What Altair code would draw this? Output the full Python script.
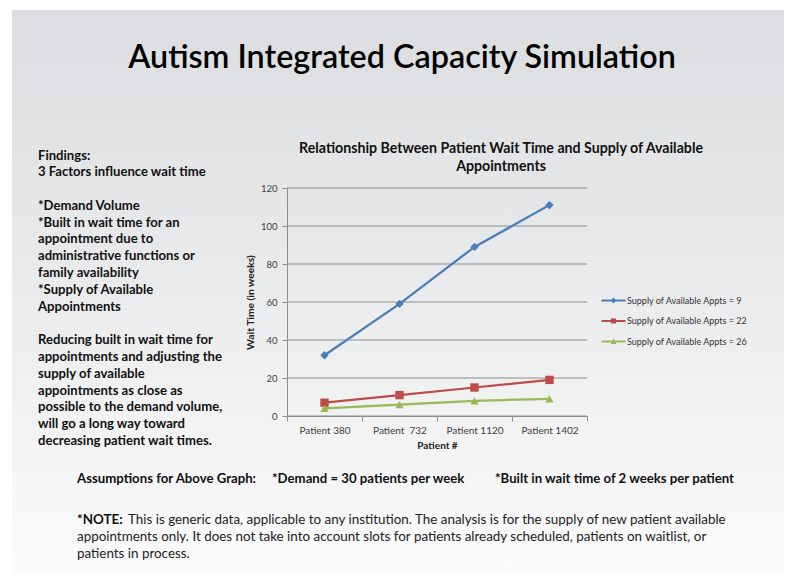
import altair as alt
import pandas as pd

# ---------------- data ----------------
patients = ["Patient 380", "Patient\u00a0 732", "Patient 1120", "Patient 1402"]
series = [
    "Supply of Available Appts = 9",
    "Supply of Available Appts = 22",
    "Supply of Available Appts = 26",
]
wait_supply_9 = [32, 59, 89, 111]
wait_supply_22 = [7, 11, 15, 19]
wait_supply_26 = [4, 6, 8, 9]
series_colors = ["#4A7EBB", "#BE4B48", "#98B954"]
y_ticks = [0, 20, 40, 60, 80, 100, 120]

slide_title = "Autism Integrated Capacity Simulation"
chart_title = [
    "Relationship Between Patient Wait Time and Supply of Available",
    "Appointments",
]
findings_intro = ["Findings:", "3 Factors influence wait time"]
findings_factors = [
    "*Demand Volume",
    "*Built in wait time for an",
    "appointment due to",
    "administrative functions or",
    "family availability",
    "*Supply of Available",
    "Appointments",
]
findings_advice = [
    "Reducing built in wait time for",
    "appointments and adjusting the",
    "supply of available",
    "appointments as close as",
    "possible to the demand volume,",
    "will go a long way toward",
    "decreasing patient wait times.",
]
assumptions = [
    "Assumptions for Above Graph:",
    "*Demand = 30 patients per week",
    "*Built in wait time of 2 weeks per patient",
]
note_head = "*NOTE:"
note_first = ("This is generic data, applicable to any institution. The analysis is for the "
              "supply of new patient available")
note_rest = [
    "appointments only. It does not take into account slots for patients already "
    "scheduled, patients on waitlist, or",
    "patients in process.",
]

rows = []
for s, vals in zip(series, [wait_supply_9, wait_supply_22, wait_supply_26]):
    for i, (p, v) in enumerate(zip(patients, vals)):
        rows.append({"series": s, "patient": p, "idx": i, "wait": v})
df = pd.DataFrame(rows)
grid_df = pd.DataFrame({"wait": y_ticks})

# ---------------- styling ----------------
FONT = "Lato"
GRID = "#8e8e8e"
X0, Y0 = 287, 188  # page position of plot origin
LH = 16.8


def px(x):
    return x - X0


def py(y):
    return y - Y0


one = alt.Data(values=[{"k": 1}])


def text_layer(txt, x, y, size, weight="normal", align="left", lh=None, color="#111111"):
    kw = dict(align=align, baseline="alphabetic", font=FONT, fontSize=size,
              fontWeight=weight, color=color)
    if lh is not None:
        kw["lineHeight"] = lh
    return alt.Chart(one).mark_text(**kw).encode(
        x=alt.value(px(x)), y=alt.value(py(y)), text=alt.value(txt)
    )


background = alt.Chart(one).mark_rect(
    fill=alt.Gradient(
        gradient="linear",
        stops=[
            alt.GradientStop(color="#dcdde0", offset=0),
            alt.GradientStop(color="#e9eaeb", offset=0.45),
            alt.GradientStop(color="#fcfcfc", offset=1),
        ],
        x1=0, x2=0, y1=0, y2=1,
    )
).encode(x=alt.value(px(12)), x2=alt.value(px(786)), y=alt.value(py(10)), y2=alt.value(py(590)))

x_enc = alt.X(
    "patient:N",
    sort=patients,
    bandPosition=0.5,
    scale=alt.Scale(type="band", domain=patients, paddingInner=0, paddingOuter=0),
    axis=alt.Axis(
        title="Patient #", labelAngle=0, tickBand="extent", grid=False, zindex=1,
        domainColor=GRID, tickColor=GRID, tickSize=5,
        labelFont=FONT, labelFontSize=10, labelColor="#404040", labelPadding=4,
        titleFont=FONT, titleFontSize=10, titleFontWeight="bold", titleColor="#222222",
        titlePadding=5,
    ),
)
y_enc = alt.Y(
    "wait:Q",
    scale=alt.Scale(domain=[0, 120], nice=False, zero=True),
    axis=alt.Axis(
        title="Wait Time (in weeks)", values=y_ticks, grid=False, zindex=1,
        domainColor=GRID, tickColor=GRID, tickSize=5,
        labelFont=FONT, labelFontSize=9.5, labelColor="#404040", labelPadding=5,
        titleFont=FONT, titleFontSize=10.3, titleFontWeight="bold", titleColor="#222222",
        titlePadding=5,
    ),
)
color_scale = alt.Scale(domain=series, range=series_colors)

# legend: a short line with the series marker, drawn by the legend from custom symbol paths
legend_paths = [
    "M-3,-0.25H3V0.25H-3Z M0,-0.75L0.75,0L0,0.75L-0.75,0Z",
    "M-3,-0.25H3V0.25H-3Z M-0.65,-0.65H0.65V0.65H-0.65Z",
    "M-3,-0.25H3V0.25H-3Z M0,-0.75L0.75,0.6H-0.75Z",
]
legend_props = dict(
    title=None, orient="none", legendX=px(609), legendY=py(296), zindex=1,
    labelFont=FONT, labelFontSize=9, labelColor="#333333",
    symbolSize=64, symbolStrokeWidth=0, labelOffset=9, rowPadding=10.5,
)
color_enc = alt.Color("series:N", scale=color_scale, legend=alt.Legend(**legend_props))

legend_layer = alt.Chart(df).transform_filter("false").mark_point(
    filled=True, size=64, opacity=1
).encode(
    color=color_enc,
    shape=alt.Shape("series:N", scale=alt.Scale(domain=series, range=legend_paths),
                    legend=alt.Legend(**legend_props)),
)

gridlines = alt.Chart(grid_df).mark_rule(color=GRID, strokeWidth=1).encode(y=y_enc)

lines = alt.Chart(df).mark_line(strokeWidth=2.25).encode(
    x=x_enc, y=y_enc, color=color_enc, order=alt.Order("idx:Q"),
)

shape_cond = (
    alt.when(alt.datum.series == series[0]).then(alt.value("diamond"))
    .when(alt.datum.series == series[1]).then(alt.value("square"))
    .otherwise(alt.value("triangle-up"))
)
markers = alt.Chart(df).mark_point(filled=True, size=70, opacity=1).encode(
    x=x_enc, y=y_enc, color=color_enc, shape=shape_cond,
)

F0 = 159.5
texts = [
    text_layer(slide_title, 402, 67.5, 32.3, 600, "center", color="#000000"),
    text_layer(chart_title, 501, 152.5, 14.2, "bold", "center", lh=18),
    text_layer(findings_intro, 38, F0, 13.1, "bold", "left", lh=LH),
    text_layer(findings_factors, 38, F0 + 3 * LH, 13.1, "bold", "left", lh=LH),
    text_layer(findings_advice, 38, F0 + 11 * LH, 13.1, "bold", "left", lh=LH),
    text_layer(assumptions[0], 77, 482.5, 13.2, "bold"),
    text_layer(assumptions[1], 272, 482.5, 13.2, "bold"),
    text_layer(assumptions[2], 495, 482.5, 13.2, "bold"),
    text_layer(note_head, 77, 523.5, 13.4, "bold"),
    text_layer(note_first, 128, 523.5, 13.4, "normal", color="#222222"),
    text_layer(note_rest, 77, 540.5, 13.4, "normal", lh=17, color="#222222"),
]

chart = alt.layer(legend_layer, background, gridlines, lines, markers, *texts).properties(
    width=300,
    height=228,
    padding={"left": 279, "top": 180, "right": 197, "bottom": 158},
    autosize=alt.AutoSizeParams(type="none"),
    background="white",
).configure_view(stroke=None)

chart.save("out.html", embed_options={"renderer": "svg", "actions": False})
